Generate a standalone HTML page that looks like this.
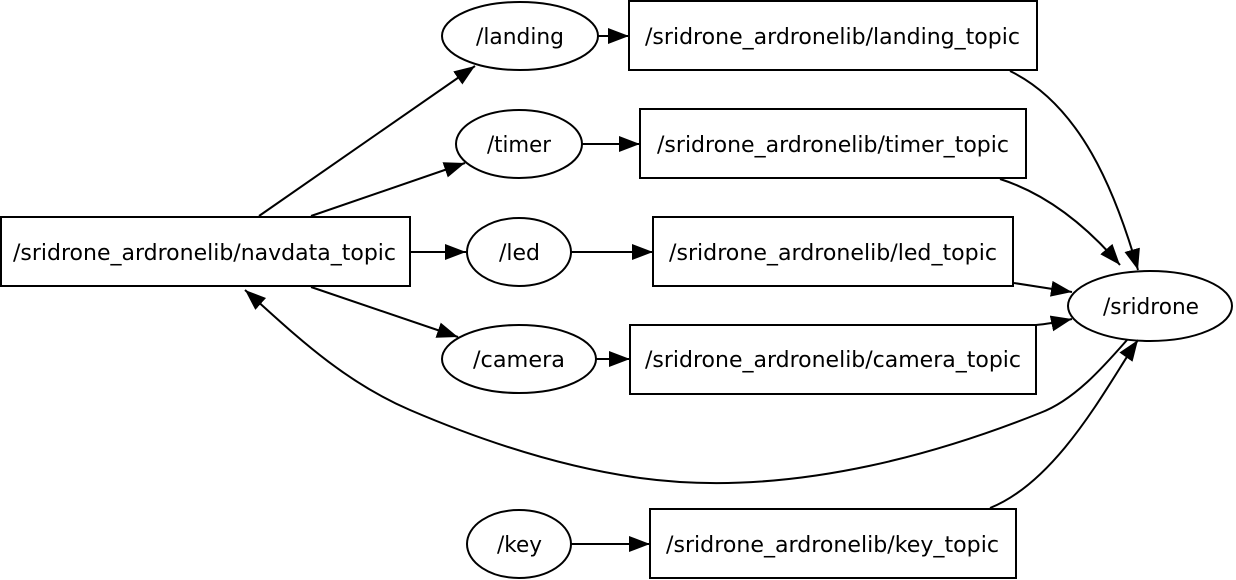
<!DOCTYPE html>
<html><head><meta charset="utf-8"><style>html,body{margin:0;padding:0;background:#fff}svg{display:block}</style></head>
<body>
<svg width="1236" height="580" viewBox="0 0 1236 580" xmlns="http://www.w3.org/2000/svg">
<defs>
<marker id="a" markerUnits="userSpaceOnUse" markerWidth="24" markerHeight="18" refX="21" refY="8" orient="auto">
<polygon points="0,0 21,8 0,16" fill="#000"/>
</marker>
</defs>
<g fill="none" stroke="#000" stroke-width="2">
<rect x="1" y="217" width="409" height="69"/>
<ellipse cx="520" cy="36" rx="78" ry="34"/>
<rect x="629" y="1" width="408" height="69"/>
<ellipse cx="519" cy="144" rx="63" ry="34"/>
<rect x="640" y="109" width="386" height="69"/>
<ellipse cx="519" cy="252" rx="52" ry="34"/>
<rect x="653" y="217" width="360" height="69"/>
<ellipse cx="519" cy="359" rx="77" ry="34"/>
<rect x="630" y="325" width="406" height="69"/>
<ellipse cx="1150" cy="306" rx="82" ry="35"/>
<ellipse cx="519" cy="544" rx="52" ry="34"/>
<rect x="650" y="509" width="366" height="69"/>
<g marker-end="url(#a)">
<path d="M259,216 L475,66"/>
<path d="M311,216 L465,163"/>
<path d="M410,252 L466,252"/>
<path d="M311,287 L458,337"/>
<path d="M598,36 L629,36"/>
<path d="M582,144 L640,144"/>
<path d="M571,252 L653,252"/>
<path d="M596,359 L630,359"/>
<path d="M571,544 L650,544"/>
<path d="M1010,71 C1080,105 1115,190 1138,270"/>
<path d="M1000,179 C1050,195 1090,230 1120,265"/>
<path d="M1014,283 L1072,292"/>
<path d="M1036,325 C1048,324 1058,322 1072,319"/>
<path d="M990,508 C1060,480 1110,380 1138,340"/>
<path d="M1127,340 C1105,365 1075,400 1040,413 C960,445 800,500 640,478 C560,467 480,440 410,410 C340,380 290,330 245,290"/>
</g>
</g>
<g font-family="DejaVu Sans, sans-serif" font-size="22" fill="#000" lengthAdjust="spacingAndGlyphs">
<text x="13" y="260" textLength="383" lengthAdjust="spacingAndGlyphs">/sridrone_ardronelib/navdata_topic</text>
<text x="476" y="44" textLength="88" lengthAdjust="spacingAndGlyphs">/landing</text>
<text x="645" y="44" textLength="375" lengthAdjust="spacingAndGlyphs">/sridrone_ardronelib/landing_topic</text>
<text x="487" y="152" textLength="64" lengthAdjust="spacingAndGlyphs">/timer</text>
<text x="657" y="152" textLength="352" lengthAdjust="spacingAndGlyphs">/sridrone_ardronelib/timer_topic</text>
<text x="499" y="260" textLength="41" lengthAdjust="spacingAndGlyphs">/led</text>
<text x="669" y="260" textLength="328" lengthAdjust="spacingAndGlyphs">/sridrone_ardronelib/led_topic</text>
<text x="473" y="367" textLength="92" lengthAdjust="spacingAndGlyphs">/camera</text>
<text x="645" y="367" textLength="376" lengthAdjust="spacingAndGlyphs">/sridrone_ardronelib/camera_topic</text>
<text x="1103" y="314" textLength="96" lengthAdjust="spacingAndGlyphs">/sridrone</text>
<text x="497" y="552" textLength="45" lengthAdjust="spacingAndGlyphs">/key</text>
<text x="666" y="552" textLength="333" lengthAdjust="spacingAndGlyphs">/sridrone_ardronelib/key_topic</text>
</g>
</svg>
</body></html>
